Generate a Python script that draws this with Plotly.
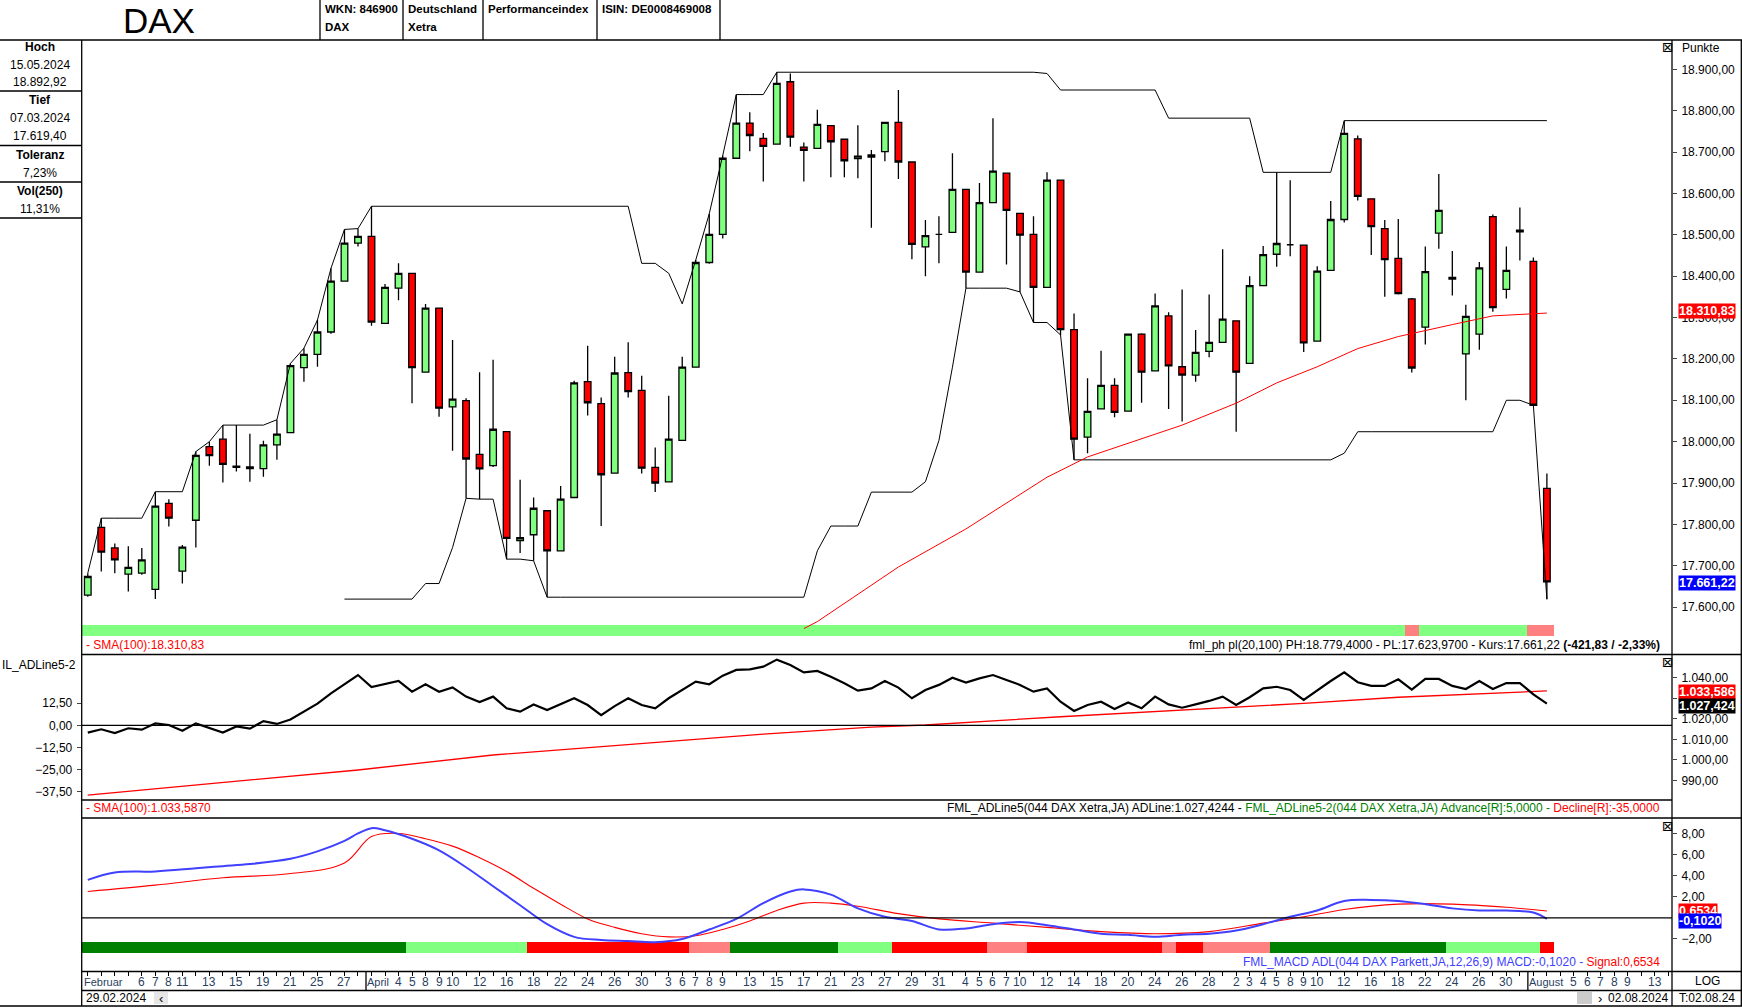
import pandas as pd
import plotly.graph_objects as go

W, H = 1742, 1008
# ---------------- data ----------------
opens = [17629,17793,17743,17680,17682,17643,17851,17687,17810,17988,18006,17941,17939,17935,17992,18022,18179,18211,18265,18388,
         18480,18496,18286,18371,18407,18168,18323,18084,18099,17969,17942,18024,17761,17775,17833,17736,17865,18145,18092,17924,
         18167,18124,17938,17903,18003,18180,18433,18501,18685,18770,18733,18719,18870,18712,18709,18764,18731,18684,18688,18701,
         18772,18676,18471,18501,18506,18610,18410,18578,18649,18552,18501,18373,18632,18271,18011,18079,18136,18074,18260,18171,
         18304,18181,18161,18218,18240,18292,18189,18377,18453,18476,18475,18243,18414,18537,18732,18587,18515,18443,18345,18277,
         18504,18397,18212,18260,18544,18368,18507,18436,17887]
highs = [17682,17815,17754,17747,17743,17879,17861,17750,17976,18000,18040,18040,18019,18002,18053,18189,18226,18294,18419,18513,
         18515,18569,18381,18431,18407,18333,18323,18246,18105,18168,18198,18026,17908,17865,17833,17893,18147,18232,18107,18205,
         18240,18159,17986,18111,18205,18439,18551,18692,18839,18796,18746,18893,18890,18723,18802,18764,18731,18765,18705,18772,
         18850,18676,18536,18545,18697,18610,18625,18782,18649,18552,18545,18651,18632,18310,18153,18220,18153,18260,18262,18358,
         18313,18368,18270,18356,18465,18292,18400,18473,18651,18632,18476,18424,18582,18776,18740,18587,18536,18538,18347,18472,
         18647,18461,18331,18434,18549,18472,18566,18445,17923]
lows = [17625,17686,17682,17638,17678,17619.4,17795,17657,17744,17942,17901,17928,17903,17915,17956,18022,18145,18181,18261,18388,
        18472,18280,18285,18342,18093,18168,18060,17978,17863,17861,17939,17716,17731,17712,17624,17736,17865,18063,17796,17924,
        18107,17923,17878,17903,18003,18180,18430,18491,18685,18702,18629,18719,18713,18629,18709,18639,18639,18637,18517,18678,
        18635,18441,18400,18431,18506,18371,18410,18578,18428,18362,18288,18373,18258,17956,17972,18079,18059,18074,18094,18171,
        18079,18049,18145,18204,18240,18024,18189,18377,18423,18448,18217,18243,18414,18530,18583,18451,18350,18356,18167,18235,
        18466,18353,18100,18222,18314,18346,18438,18088,17619]
closes = [17674,17733,17714,17696,17714,17844,17815,17745,17967,17966,17945,17938,17935,17992,18018,18184,18211,18265,18388,18480,
          18496,18289,18373,18407,18179,18323,18081,18103,17958,17934,18030,17766,17768,17839,17736,17861,18142,18094,17920,18166,
          18121,17936,17900,18006,18180,18433,18501,18685,18770,18740,18714,18866,18736,18704,18767,18725,18679,18690,18693,18772,
          18676,18477,18498,18501,18610,18410,18578,18654,18559,18499,18373,18632,18271,18006,18073,18136,18071,18260,18168,18328,
          18183,18161,18216,18240,18296,18168,18377,18452,18479,18476,18239,18412,18537,18745,18593,18520,18440,18358,18178,18411,
          18559,18393,18303,18420,18324,18414,18511,18088,17661.22]
# price strip state: G=green, P=pink
price_state = ["G"] * 98 + ["P"] + ["G"] * 8 + ["P", "P"]

sma_price_idx = [53, 54, 60, 65, 71, 74, 81, 85, 88, 91, 94, 97, 101, 104, 108]
sma_price_val = [17548, 17565, 17697, 17789, 17914, 17963, 18040, 18093, 18142, 18181, 18225, 18254, 18283, 18304, 18310.83]

adline = [1013.3,1014.9,1013.1,1015.4,1014.7,1017.8,1017.0,1014.2,1017.8,1015.7,1013.3,1016.3,1015.2,1018.9,1017.5,1019.7,1023.5,1027.4,1032.4,1037.0,
          1041.3,1035.5,1036.8,1038.4,1033.2,1036.8,1033.2,1035.3,1030.8,1028.2,1030.8,1025.1,1023.5,1027.0,1024.3,1027.0,1030.0,1026.7,1021.8,1026.2,
          1030.0,1026.7,1025.1,1030.0,1034.0,1038.1,1036.8,1041.0,1043.8,1044.1,1045.4,1048.8,1046.2,1042.6,1043.3,1040.5,1037.3,1033.7,1034.8,1038.4,
          1035.2,1030.0,1034.0,1036.5,1040.0,1037.6,1039.7,1041.3,1038.9,1036.5,1033.2,1034.8,1028.3,1023.8,1026.7,1028.3,1024.8,1027.9,1025.1,1030.8,
          1027.0,1025.4,1027.0,1028.7,1030.8,1026.7,1030.5,1034.8,1035.6,1034.0,1029.2,1034.0,1038.4,1042.6,1037.8,1036.0,1036.0,1039.2,1034.2,1039.4,
          1039.4,1036.0,1034.5,1038.4,1034.5,1037.4,1037.4,1031.9,1027.4244]
ad_sma_idx = [0, 10, 20, 30, 40, 50, 58, 62, 72, 84, 90, 97, 103, 108]
ad_sma_val = [982.9, 989.0, 995.1, 1002.4, 1007.6, 1012.6, 1016.0, 1017.0, 1021.0, 1025.4, 1027.5, 1030.5, 1032.0, 1033.587]

macd_idx = [0,2,5,8,10,12,15,17,19,20,21,22,24,26,28,30,32,34,36,38,40,42,44,46,48,50,52,53,55,57,59,61,63,65,67,69,71,73,75,77,79,81,83,85,87,89,91,93,95,97,99,101,103,105,107,108]
macd_val = [3.6,4.3,4.4,4.7,4.9,5.1,5.6,6.3,7.3,8.0,8.5,8.3,7.5,6.4,4.8,3.0,1.2,-0.6,-1.8,-2.1,-2.2,-2.3,-2.0,-1.1,-0.1,1.4,2.5,2.7,2.2,0.9,0.1,-0.3,-1.1,-1.0,-0.6,-0.4,-0.7,-1.1,-1.5,-1.6,-1.8,-1.6,-1.5,-1.2,-0.6,0.1,0.7,1.6,1.7,1.6,1.3,0.9,0.7,0.7,0.5,-0.102]
sig_idx = [0,5,10,15,19,21,23,25,27,29,31,33,35,37,39,41,43,45,47,49,51,53,55,57,60,63,67,71,75,79,83,87,90,93,97,101,105,108]
sig_val = [2.5,3.1,3.8,4.2,5.2,7.7,8.0,7.5,6.8,5.7,4.4,2.8,1.3,-0.1,-0.9,-1.5,-1.8,-1.7,-1.1,-0.3,0.7,1.4,1.4,1.1,0.4,-0.1,-0.5,-0.9,-1.3,-1.5,-1.3,-0.5,0.1,0.8,1.3,1.3,1.0,0.6534]
# MACD strip: D=dark green, L=light green, R=red, P=pink
macd_state = (["D"]*24 + ["L"]*9 + ["R"]*12 + ["P"]*3 + ["D"]*8 + ["L"]*4 + ["R"]*7 + ["P"]*3 +
              ["R"]*10 + ["P"] + ["R"]*2 + ["P"]*5 + ["D"]*13 + ["L"]*7 + ["R"])

month_days = {3: [6,7,8,11,13,15,19,21,25,27], 4: [4,5,8,9,10,12,16,18,22,24,26,30],
              5: [3,6,7,8,9,13,15,17,21,23,27,29,31], 6: [4,5,6,7,10,12,14,18,20,24,26,28],
              7: [2,3,4,5,8,9,10,12,16,18,22,24,26,30], 8: [5,6,7,8,9,13]}
month_names = [("Februar", "2024-02-29"), ("April", "2024-04-02"), ("August", "2024-08-01")]
holidays = ["2024-03-29", "2024-04-01", "2024-05-01"]
last_date = "2024-08-02"

# ---------------- derived ----------------
n = len(closes)
xs = list(range(n))
dates = [d for d in pd.bdate_range("2024-02-29", "2024-08-13") if d.strftime("%Y-%m-%d") not in holidays]
hs = pd.Series(highs); ls = pd.Series(lows)
upper = hs.rolling(20, min_periods=1).max()
lower = ls.rolling(20, min_periods=20).min()

COL = {"G": "#80FF80", "P": "#FF8080", "D": "#008000", "L": "#80FF80", "R": "#FF0000"}
FONT = "Liberation Sans, Arial, sans-serif"

def px(x): return x / W
def py(y): return 1 - y / H

XL, XR = 81.7, 1672
XR_RANGE = [-0.45, 117.26]
PR = [17530.2, 18970.9]
ADR = [980.5, 1051.05]
ADL = [-42.06, 39.6]
MR = [-3.33, 9.37]

fig = go.Figure()
fig.add_trace(go.Candlestick(x=xs, open=opens, high=highs, low=lows, close=closes,
    increasing=dict(fillcolor="#80FF80", line=dict(color="black", width=1.3)),
    decreasing=dict(fillcolor="#FF0000", line=dict(color="black", width=1.3)),
    whiskerwidth=0, xaxis="x", yaxis="y", showlegend=False, hoverinfo="skip"))
fig.add_trace(go.Scatter(x=xs, y=upper, mode="lines", line=dict(color="black", width=1), xaxis="x", yaxis="y", showlegend=False))
fig.add_trace(go.Scatter(x=xs, y=lower, mode="lines", line=dict(color="black", width=1), xaxis="x", yaxis="y", showlegend=False))
fig.add_trace(go.Scatter(x=sma_price_idx, y=sma_price_val, mode="lines", line=dict(color="#FF0000", width=1), xaxis="x", yaxis="y", showlegend=False))
fig.add_trace(go.Bar(x=xs, y=[25.4]*n, base=PR[0], width=1, marker=dict(color=[COL[s] for s in price_state], line=dict(width=0)),
                     xaxis="x", yaxis="y", showlegend=False))
fig.add_trace(go.Scatter(x=ad_sma_idx, y=ad_sma_val, mode="lines", line=dict(color="#FF0000", width=1.3), xaxis="x2", yaxis="y2", showlegend=False))
fig.add_trace(go.Scatter(x=xs, y=adline, mode="lines", line=dict(color="black", width=2.2), xaxis="x2", yaxis="y2", showlegend=False))
fig.add_trace(go.Bar(x=xs, y=[1.03]*n, base=MR[0], width=1, marker=dict(color=[COL[s] for s in macd_state], line=dict(width=0)),
                     xaxis="x3", yaxis="y3", showlegend=False))
fig.add_trace(go.Scatter(x=sig_idx, y=sig_val, mode="lines", line=dict(color="#FF0000", width=1.1, shape="spline"), xaxis="x3", yaxis="y3", showlegend=False))
fig.add_trace(go.Scatter(x=macd_idx, y=macd_val, mode="lines", line=dict(color="#4040FF", width=2, shape="spline"), xaxis="x3", yaxis="y3", showlegend=False))

tickfont = dict(family=FONT, size=12, color="black")
xcommon = dict(range=XR_RANGE, showgrid=False, zeroline=False, showticklabels=False, domain=[px(XL), px(XR)], fixedrange=True)
ycommon = dict(showgrid=False, zeroline=False, tickformat=",.2f", ticks="outside", ticklen=4, tickfont=tickfont, ticklabelstandoff=2)
fig.update_layout(
    width=W, height=H, margin=dict(l=0, r=0, t=0, b=0), paper_bgcolor="white", plot_bgcolor="white",
    separators=",.", bargap=0, barmode="overlay",
    xaxis=dict(**xcommon, anchor="y", rangeslider=dict(visible=False)),
    xaxis2=dict(**xcommon, anchor="y2"),
    xaxis3=dict(**xcommon, anchor="y3"),
    xaxis4=dict(range=XR_RANGE, domain=[px(XL), px(XR)], anchor="y5", side="top", showgrid=False, zeroline=False,
                showticklabels=False, ticks="inside", ticklen=4, tickcolor="black", tickvals=list(range(118)),
                showline=False),
    yaxis=dict(**ycommon, domain=[py(636), py(40)], range=PR, side="right", anchor="x",
               tickvals=list(range(17600, 18901, 100))),
    yaxis2=dict(**ycommon, domain=[py(800), py(655)], range=ADR, side="right", anchor="x2",
                tickvals=[990, 1000, 1010, 1020, 1030, 1040]),
    yaxis4=dict(**ycommon, range=ADL, overlaying="y2", side="left", anchor="x2",
                tickvals=[-37.5, -25, -12.5, 0, 12.5]),
    yaxis3=dict(**ycommon, domain=[py(953), py(819)], range=MR, side="right", anchor="x3",
                tickvals=[-2, 2, 4, 6, 8]),
    yaxis5=dict(domain=[py(991), py(972)], range=[0, 1], anchor="x4", visible=False),
)

shapes = []
def hline(y, x0, x1, w=1.3):
    shapes.append(dict(type="line", xref="paper", yref="paper", x0=px(x0), x1=px(x1), y0=py(y), y1=py(y), line=dict(color="black", width=w)))
def vline(x, y0, y1, w=1.3):
    shapes.append(dict(type="line", xref="paper", yref="paper", x0=px(x), x1=px(x), y0=py(y0), y1=py(y1), line=dict(color="black", width=w)))
hline(40, 0, W); hline(654.5, XL, W); hline(800, XL, XR); hline(818, XL, W); hline(971.5, XL, W)
hline(990.5, XL, W); hline(1006, 0, W)
for y in [91, 145.5, 182, 218]:
    hline(y, 0, XL)
vline(XL, 40, 1006); vline(XR, 40, 1006); vline(W - 0.7, 40, 1006)
for x in [320, 403, 483, 597, 720]:
    vline(x, 0, 40)
vline(XL + 13.51 * 20.6 + 6, 972, 990)
vline(XL + 13.51 * 106.6 + 6, 972, 990)
shapes.append(dict(type="line", xref="paper", yref="y4", x0=px(XL), x1=px(XR), y0=0, y1=0, line=dict(color="black", width=1.2)))
shapes.append(dict(type="line", xref="paper", yref="y3", x0=px(XL), x1=px(XR), y0=0, y1=0, line=dict(color="black", width=1.2)))
shapes.append(dict(type="rect", xref="paper", yref="paper", x0=px(154), x1=px(168), y0=py(1004), y1=py(992), fillcolor="#E6E6E6", line=dict(width=0)))
shapes.append(dict(type="rect", xref="paper", yref="paper", x0=px(1577), x1=px(1592), y0=py(1004), y1=py(992), fillcolor="#CCCCCC", line=dict(width=0)))
fig.update_layout(shapes=shapes)

ann = []
def t(x, y, s, size=13, anchor="left", color="black", family=FONT, bg=None, yanchor="middle"):
    d = dict(xref="paper", yref="paper", x=px(x), y=py(y), text=s, showarrow=False, xanchor=anchor, yanchor=yanchor,
             font=dict(family=family, size=size, color=color))
    if bg:
        d.update(bgcolor=bg, borderpad=0)
    ann.append(d)

t(159, 20, "DAX", size=35, anchor="center")
t(323, 9, "<b>WKN: 846900</b>", size=11.5); t(323, 27, "<b>DAX</b>", size=11.5)
t(406, 9, "<b>Deutschland</b>", size=11.5); t(406, 27, "<b>Xetra</b>", size=11.5)
t(486, 9, "<b>Performanceindex</b>", size=11.5)
t(600, 9, "<b>ISIN: DE0008469008</b>", size=11.5)
side = [(47, "<b>Hoch</b>"), (65, "15.05.2024"), (82, "18.892,92"), (100, "<b>Tief</b>"), (118, "07.03.2024"), (136, "17.619,40"),
        (155, "<b>Toleranz</b>"), (173, "7,23%"), (191, "<b>Vol(250)</b>"), (209, "11,31%")]
for y, s in side:
    t(40, y, s, size=12, anchor="center")

t(1680, 48, "Punkte", size=12)
t(1678, 311, "<b>18.310,83</b>", size=12.5, color="white", bg="#FF0000")
t(1678, 583, "<b>17.661,22</b>", size=12.5, color="white", bg="#0000FF")
t(1678, 692, "<b>1.033,586</b>", size=12.5, color="white", bg="#FF0000")
t(1678, 706, "<b>1.027,424</b>", size=12.5, color="white", bg="black")
t(1678, 911, "<b>0,6534</b>", size=12.5, color="white", bg="#FF0000")
t(1678, 921, "<b>-0,1020</b>", size=12.5, color="white", bg="#0000FF")
for y in [47, 662, 826]:
    t(1668, y, "⊠", size=14, anchor="center", family="DejaVu Sans")
t(0, 665, "IL_ADLine5-2", size=12)

t(84, 645, "- SMA(100):18.310,83", size=12, color="#FF0000")
t(1662, 645, "fml_ph pl(20,100) PH:18.779,4000 - PL:17.623,9700 - Kurs:17.661,22 <b>(-421,83 / -2,33%)</b>", size=12, anchor="right")
t(84, 808, "- SMA(100):1.033,5870", size=12, color="#FF0000")
t(1662, 808, "FML_ADLine5(044 DAX Xetra,JA) ADLine:1.027,4244 - <span style='color:#008000'>FML_ADLine5-2(044 DAX Xetra,JA) Advance[R]:5,0000 - </span><span style='color:#FF0000'>Decline[R]:-35,0000</span>", size=12, anchor="right")
t(1662, 962, "<span style='color:#4040FF'>FML_MACD ADL(044 DAX Parkett,JA,12,26,9) MACD:-0,1020 - </span><span style='color:#FF0000'>Signal:0,6534</span>", size=12, anchor="right")

for i, d in enumerate(dates):
    if d.day in month_days.get(d.month, []):
        pos = i + 1 if d.strftime("%Y-%m-%d") > last_date else i
        ann.append(dict(xref="x4", yref="paper", x=pos, y=py(982), text=str(d.day), showarrow=False, xanchor="center",
                        yanchor="middle", font=dict(family=FONT, size=12)))
for name, ds in month_names:
    i = [k for k, d in enumerate(dates) if d.strftime("%Y-%m-%d") == ds][0]
    ann.append(dict(xref="x4", yref="paper", x=i - 0.45, y=py(982), text=name, showarrow=False, xanchor="left",
                    yanchor="middle", font=dict(family=FONT, size=11)))
t(84, 998, "29.02.2024", size=12)
t(161, 998, "‹", size=13, anchor="center")
t(1600, 998, "›", size=13, anchor="center")
t(1670, 998, "02.08.2024", size=12, anchor="right")
t(1707, 981, "LOG", size=12, anchor="center")
t(1707, 998, "T:02.08.24", size=12, anchor="center")
fig.update_layout(annotations=ann)

fig.write_html("out.html", config={"displayModeBar": False},
               post_script="document.body.style.margin='0';document.body.style.overflow='hidden';")
